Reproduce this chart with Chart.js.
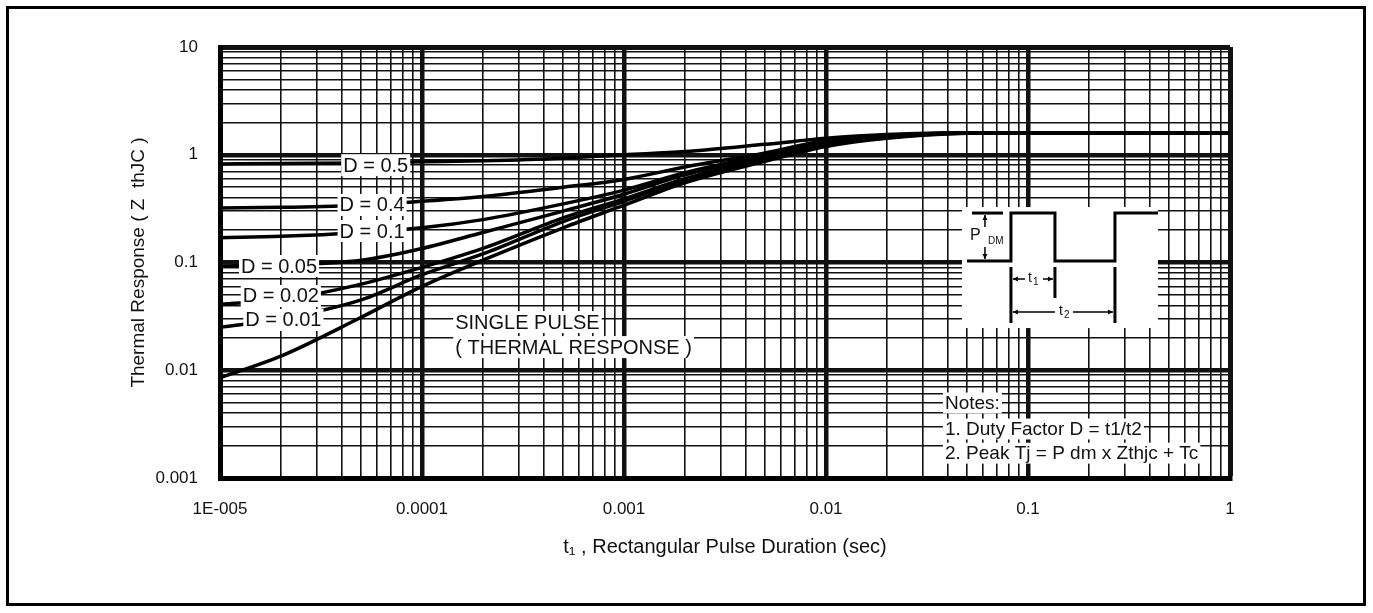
<!DOCTYPE html>
<html>
<head>
<meta charset="utf-8">
<title>Thermal Response</title>
<script src="https://cdn.jsdelivr.net/npm/chart.js@4.4.1/dist/chart.umd.min.js"></script>
<style>
  html, body { margin: 0; padding: 0; background: #fff; }
  #wrap { position: relative; width: 1373px; height: 613px; }
  #frame { position: absolute; left: 6px; top: 6px; width: 1354px; height: 594px; border: 3px solid #000; }
  #chart { position: absolute; left: 0; top: 0; }
</style>
</head>
<body>
<div id="wrap">
  <div id="frame"></div>
  <canvas id="chart" width="1373" height="613"></canvas>
</div>
<script>
// pulse duration t1 (sec) where the curves were read
const pulseWidths = [1e-5, 2e-5, 5e-5, 1e-4, 2e-4, 5e-4, 1e-3, 2e-3, 5e-3, 1e-2, 2e-2, 5e-2, 1e-1, 1];

// Zth(jc) for each duty factor
const zD05 = [0.82, 0.83, 0.84, 0.86, 0.88, 0.93, 1.0, 1.07, 1.25, 1.42, 1.54, 1.6, 1.6, 1.6];
const zD04 = [0.32, 0.325, 0.34, 0.37, 0.41, 0.5, 0.59, 0.77, 1.04, 1.36, 1.5, 1.6, 1.6, 1.6];
const zD01 = [0.17, 0.175, 0.19, 0.21, 0.25, 0.35, 0.47, 0.68, 1.0, 1.32, 1.48, 1.6, 1.6, 1.6];
const zD005 = [0.093, 0.095, 0.105, 0.135, 0.19, 0.3, 0.43, 0.65, 0.96, 1.29, 1.46, 1.6, 1.6, 1.6];
const zD002 = [0.041, 0.045, 0.063, 0.09, 0.135, 0.26, 0.39, 0.6, 0.93, 1.26, 1.45, 1.6, 1.6, 1.6];
const zD001 = [0.025, 0.03, 0.045, 0.077, 0.12, 0.24, 0.37, 0.58, 0.9, 1.23, 1.44, 1.59, 1.6, 1.6];
const zSingle = [0.0085, 0.0135, 0.031, 0.06, 0.105, 0.21, 0.34, 0.55, 0.87, 1.19, 1.42, 1.58, 1.6, 1.6];

const xDecades = [1e-5, 1e-4, 1e-3, 1e-2, 1e-1, 1];
const xTickLabels = ["1E-005", "0.0001", "0.001", "0.01", "0.1", "1"];
const yDecades = [0.001, 0.01, 0.1, 1, 10];
const yTickLabels = ["0.001", "0.01", "0.1", "1", "10"];

const curves = [zD05, zD04, zD01, zD005, zD002, zD001, zSingle];

// 1..9 in every decade, plus the last decade value
function logGrid(decades) {
  const out = [];
  decades.forEach((d, i) => {
    if (i === decades.length - 1) { out.push(d); return; }
    for (let k = 1; k <= 9; k++) out.push(d * k);
  });
  return out;
}

function decadeIndex(decades, v) {
  for (let i = 0; i < decades.length; i++) {
    if (Math.abs(Math.log10(v / decades[i])) < 1e-6) return i;
  }
  return -1;
}

function gridWidth(decades) {
  return (ctx) => {
    if (!ctx.tick) return 1.6;
    const i = decadeIndex(decades, ctx.tick.value);
    if (i === decades.length - 1) return 5;
    return i >= 0 ? 4.5 : 1.6;
  };
}

function arrowHead(ctx, x, y, dir) {
  const s = 5;
  ctx.beginPath();
  if (dir === "left") { ctx.moveTo(x, y); ctx.lineTo(x + s, y - 2.5); ctx.lineTo(x + s, y + 2.5); }
  if (dir === "right") { ctx.moveTo(x, y); ctx.lineTo(x - s, y - 2.5); ctx.lineTo(x - s, y + 2.5); }
  if (dir === "up") { ctx.moveTo(x, y); ctx.lineTo(x - 2.5, y + s); ctx.lineTo(x + 2.5, y + s); }
  if (dir === "down") { ctx.moveTo(x, y); ctx.lineTo(x - 2.5, y - s); ctx.lineTo(x + 2.5, y - s); }
  ctx.closePath();
  ctx.fill();
}

const annotate = {
  id: "annotate",
  afterDatasetsDraw(chart, args, opts) {
    const { ctx } = chart;
    const xs = chart.scales.x, ys = chart.scales.y;
    ctx.save();
    ctx.textBaseline = "middle";
    ctx.textAlign = "left";

    // text labels with white boxes
    opts.labels.forEach((l) => {
      ctx.font = l.size + "px 'Liberation Sans', Arial, sans-serif";
      const px = xs.getPixelForValue(l.x);
      const py = ys.getPixelForValue(l.y);
      const w = ctx.measureText(l.text).width;
      const left = l.align === "left" ? px : px - w / 2;
      const h = l.size * 1.1;
      ctx.fillStyle = "#fff";
      ctx.fillRect(left - 2, py - h / 2, w + 4, h);
      ctx.fillStyle = "#111";
      ctx.fillText(l.text, left, py + 1);
    });

    // pulse sketch
    const ox = xs.getPixelForValue(opts.inset.x);
    const oy = ys.getPixelForValue(opts.inset.y);
    ctx.fillStyle = "#fff";
    ctx.fillRect(ox, oy, 196, 121);
    ctx.strokeStyle = "#000";
    ctx.fillStyle = "#000";
    ctx.lineCap = "butt";

    ctx.lineWidth = 3;
    ctx.beginPath();
    ctx.moveTo(ox + 5, oy + 54); ctx.lineTo(ox + 49, oy + 54);
    ctx.lineTo(ox + 49, oy + 6); ctx.lineTo(ox + 93, oy + 6);
    ctx.lineTo(ox + 93, oy + 54); ctx.lineTo(ox + 153, oy + 54);
    ctx.lineTo(ox + 153, oy + 6); ctx.lineTo(ox + 196, oy + 6);
    ctx.stroke();
    ctx.beginPath();
    ctx.moveTo(ox + 10, oy + 6); ctx.lineTo(ox + 41, oy + 6);
    ctx.stroke();
    ctx.beginPath();
    ctx.moveTo(ox + 49, oy + 60); ctx.lineTo(ox + 49, oy + 116);
    ctx.moveTo(ox + 93, oy + 60); ctx.lineTo(ox + 93, oy + 91);
    ctx.moveTo(ox + 153, oy + 60); ctx.lineTo(ox + 153, oy + 116);
    ctx.stroke();

    ctx.lineWidth = 1.5;
    ctx.beginPath();
    ctx.moveTo(ox + 23, oy + 8); ctx.lineTo(ox + 23, oy + 20);
    ctx.moveTo(ox + 23, oy + 40); ctx.lineTo(ox + 23, oy + 52);
    ctx.moveTo(ox + 51, oy + 72); ctx.lineTo(ox + 63, oy + 72);
    ctx.moveTo(ox + 81, oy + 72); ctx.lineTo(ox + 91, oy + 72);
    ctx.moveTo(ox + 51, oy + 105); ctx.lineTo(ox + 93, oy + 105);
    ctx.moveTo(ox + 111, oy + 105); ctx.lineTo(ox + 151, oy + 105);
    ctx.stroke();
    arrowHead(ctx, ox + 23, oy + 8, "up");
    arrowHead(ctx, ox + 23, oy + 52, "down");
    arrowHead(ctx, ox + 51, oy + 72, "left");
    arrowHead(ctx, ox + 91, oy + 72, "right");
    arrowHead(ctx, ox + 51, oy + 105, "left");
    arrowHead(ctx, ox + 151, oy + 105, "right");

    ctx.fillStyle = "#111";
    ctx.font = "16px 'Liberation Sans', Arial, sans-serif";
    ctx.fillText("P", ox + 8, oy + 29);
    ctx.font = "10px 'Liberation Sans', Arial, sans-serif";
    ctx.fillText("DM", ox + 26, oy + 34);
    ctx.font = "14px 'Liberation Sans', Arial, sans-serif";
    ctx.fillText("t", ox + 66, oy + 71);
    ctx.fillText("t", ox + 97, oy + 104);
    ctx.font = "10px 'Liberation Sans', Arial, sans-serif";
    ctx.fillText("1", ox + 71, oy + 75);
    ctx.fillText("2", ox + 102, oy + 108);

    ctx.restore();
  }
};

const lineStyle = {
  borderColor: "#000",
  borderWidth: 3.5,
  pointRadius: 0,
  fill: false,
  cubicInterpolationMode: "monotone"
};

const baseFont = "'Liberation Sans', Arial, sans-serif";

new Chart(document.getElementById("chart"), {
  type: "line",
  data: {
    datasets: curves.map((c) => ({
      ...lineStyle,
      data: pulseWidths.map((t, i) => ({ x: t, y: c[i] }))
    }))
  },
  options: {
    responsive: false,
    animation: false,
    layout: { padding: { left: 0, top: 47, right: 143, bottom: 0 } },
    plugins: {
      legend: { display: false },
      tooltip: { enabled: false },
      annotate: {
        labels: [
          { text: "D = 0.5", x: 5.9e-5, y: 0.8, size: 20 },
          { text: "D = 0.4", x: 5.66e-5, y: 0.342, size: 20 },
          { text: "D = 0.1", x: 5.66e-5, y: 0.196, size: 20 },
          { text: "D = 0.05", x: 1.96e-5, y: 0.0928, size: 20 },
          { text: "D = 0.02", x: 2.0e-5, y: 0.0489, size: 20 },
          { text: "D = 0.01", x: 2.06e-5, y: 0.0293, size: 20 },
          { text: "SINGLE PULSE", x: 1.46e-4, y: 0.028, size: 20, align: "left" },
          { text: "( THERMAL RESPONSE )", x: 1.46e-4, y: 0.0164, size: 20, align: "left" },
          { text: "Notes:", x: 0.0388, y: 0.00497, size: 19, align: "left" },
          { text: "1. Duty Factor D = t1/t2", x: 0.0388, y: 0.00285, size: 19, align: "left" },
          { text: "2. Peak Tj = P dm x Zthjc + Tc", x: 0.0388, y: 0.0017, size: 19, align: "left" }
        ],
        inset: { x: 0.0471, y: 0.327 }
      }
    },
    scales: {
      x: {
        type: "logarithmic",
        min: 1e-5,
        max: 1,
        afterBuildTicks: (s) => { s.ticks = logGrid(xDecades).map((v) => ({ value: v })); },
        afterFit: (s) => { s.height = 135; },
        grid: { color: "#111", lineWidth: gridWidth(xDecades), drawTicks: false },
        border: { display: true, color: "#000", width: 5 },
        ticks: {
          autoSkip: false,
          maxRotation: 0,
          padding: 21,
          color: "#111",
          font: { family: baseFont, size: 17 },
          callback: (v) => {
            const i = decadeIndex(xDecades, v);
            return i >= 0 ? xTickLabels[i] : "";
          }
        },
        title: {
          display: true,
          text: "t\u2081 , Rectangular Pulse Duration (sec)",
          color: "#111",
          font: { family: baseFont, size: 20 },
          padding: { top: 0, bottom: 54 }
        }
      },
      y: {
        type: "logarithmic",
        min: 0.001,
        max: 10,
        afterBuildTicks: (s) => { s.ticks = logGrid(yDecades).map((v) => ({ value: v })); },
        afterFit: (s) => { s.width = 220; },
        grid: { color: "#111", lineWidth: gridWidth(yDecades), drawTicks: false },
        border: { display: true, color: "#000", width: 5 },
        ticks: {
          autoSkip: false,
          padding: 22,
          color: "#111",
          font: { family: baseFont, size: 17 },
          callback: (v) => {
            const i = decadeIndex(yDecades, v);
            return i >= 0 ? yTickLabels[i] : "";
          }
        },
        title: {
          display: true,
          text: "Thermal Response ( Z  thJC )",
          color: "#111",
          font: { family: baseFont, size: 19 },
          padding: { top: 127, bottom: 0 }
        }
      }
    }
  },
  plugins: [annotate]
});
</script>
</body>
</html>
